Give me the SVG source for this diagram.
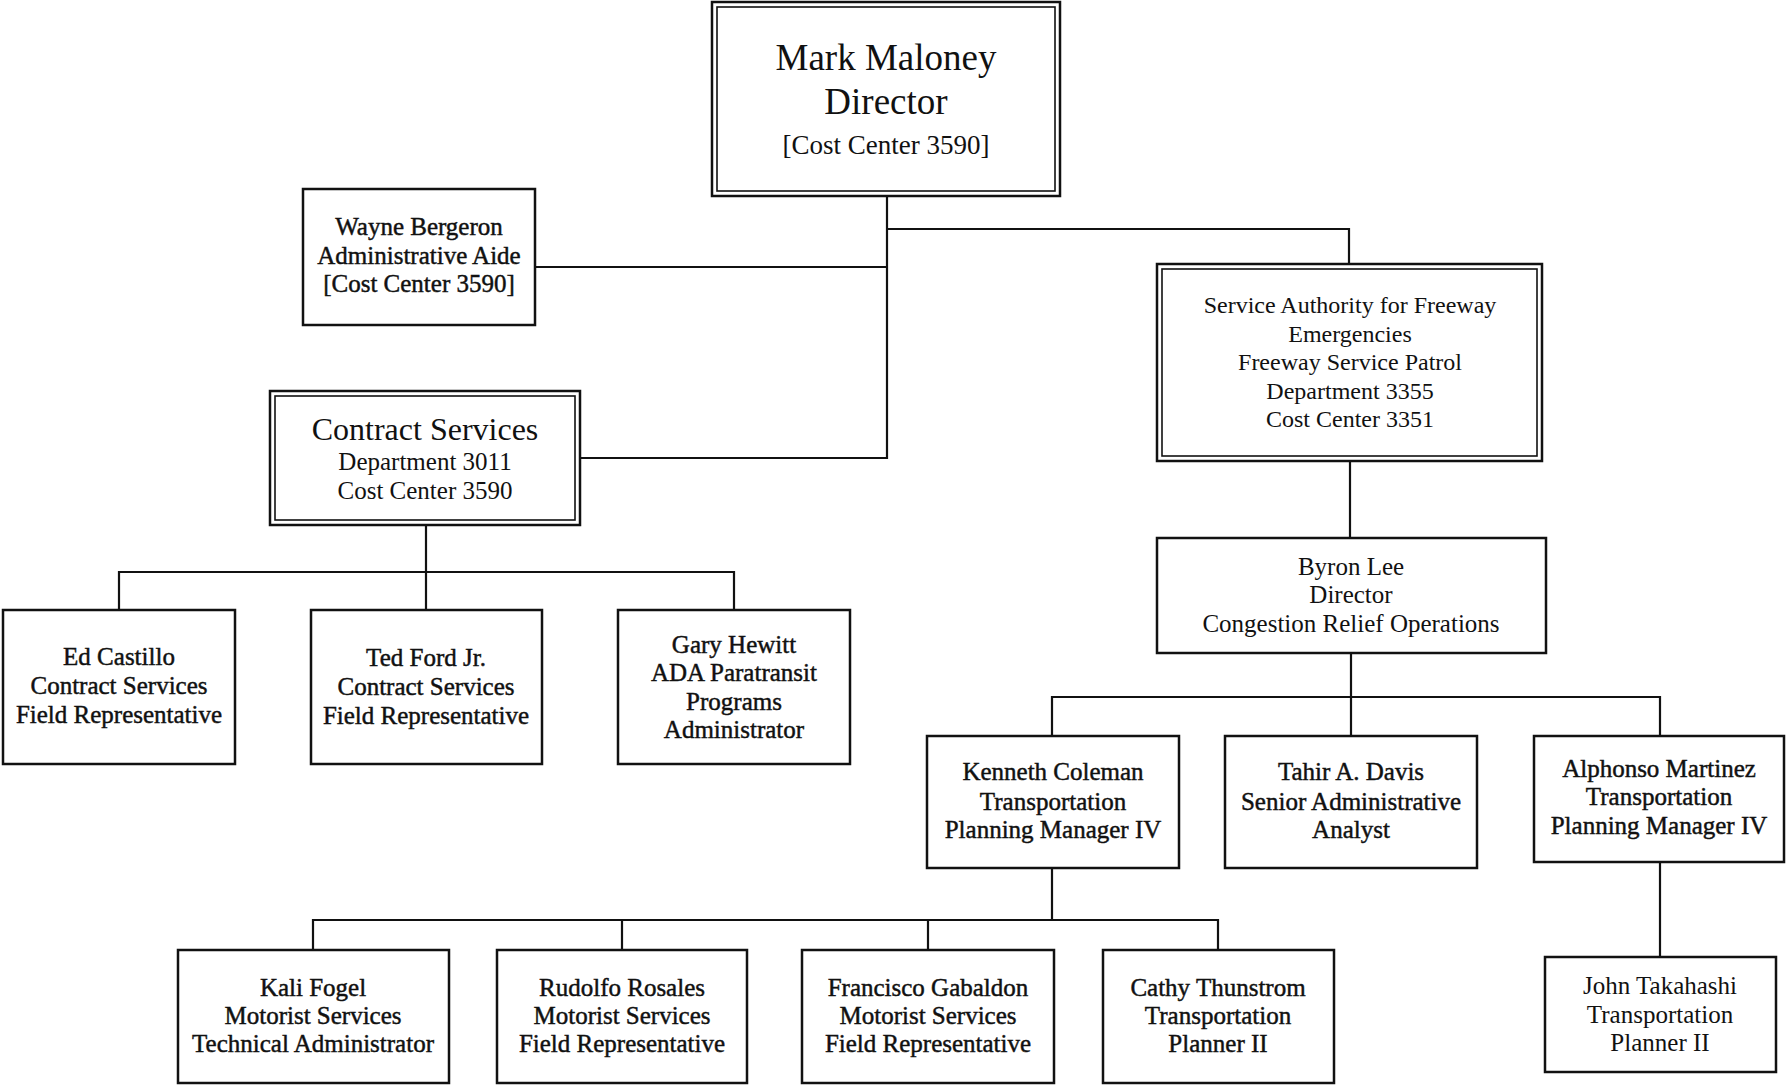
<svg xmlns="http://www.w3.org/2000/svg" width="1786" height="1086" viewBox="0 0 1786 1086">
<style>
text{font-family:"Liberation Serif","Times New Roman",serif;fill:#111;text-anchor:middle;font-size:25px}
.box{fill:#fff;stroke:#111;stroke-width:2.5}
.inner{fill:none;stroke:#111;stroke-width:1.6}
.heavy{stroke:#111;stroke-width:0.45}
.conn{fill:none;stroke:#111;stroke-width:2.2}
.big{font-size:37px}
.cs{font-size:32px}
.m24{font-size:24px}
</style>
<rect width="1786" height="1086" fill="#fff"/>
<g id="connectors" class="conn">
<path d="M887 196V458H580M887 267H535M887 229H1349V264"/>
<path d="M426 525V610M119 610V572H734V610"/>
<path d="M1350 461V538"/>
<path d="M1351 653V736M1052 736V697H1660V736"/>
<path d="M1052 868V920M313 950V920H1218V950M622 920V950M928 920V950"/>
<path d="M1660 862V957"/>
</g>
<g id="director">
<rect class="box" x="712" y="2" width="348" height="194"/>
<rect class="inner" x="717" y="7" width="338" height="184"/>
<text class="big" x="886" y="70">Mark Maloney</text>
<text class="big" x="886" y="114">Director</text>
<text style="font-size:27px" x="886" y="154">[Cost Center 3590]</text>
</g>
<g id="wayne" class="heavy">
<rect class="box" x="303" y="189" width="232" height="136"/>
<text x="419" y="235">Wayne Bergeron</text>
<text x="419" y="264">Administrative Aide</text>
<text x="419" y="292">[Cost Center 3590]</text>
</g>
<g id="contract">
<rect class="box" x="270" y="391" width="310" height="134"/>
<rect class="inner" x="275" y="396" width="300" height="124"/>
<text class="cs" x="425" y="440">Contract Services</text>
<text x="425" y="470">Department 3011</text>
<text x="425" y="499">Cost Center 3590</text>
</g>
<g id="safe">
<rect class="box" x="1157" y="264" width="385" height="197"/>
<rect class="inner" x="1162" y="269" width="375" height="187"/>
<text class="m24" x="1350" y="313">Service Authority for Freeway</text>
<text class="m24" x="1350" y="342">Emergencies</text>
<text class="m24" x="1350" y="370">Freeway Service Patrol</text>
<text class="m24" x="1350" y="399">Department 3355</text>
<text class="m24" x="1350" y="427">Cost Center 3351</text>
</g>
<g id="byron">
<rect class="box" x="1157" y="538" width="389" height="115"/>
<text x="1351" y="575">Byron Lee</text>
<text x="1351" y="603">Director</text>
<text x="1351" y="632">Congestion Relief Operations</text>
</g>
<g id="ed" class="heavy">
<rect class="box" x="3" y="610" width="232" height="154"/>
<text x="119" y="665">Ed Castillo</text>
<text x="119" y="694">Contract Services</text>
<text x="119" y="723">Field Representative</text>
</g>
<g id="ted" class="heavy">
<rect class="box" x="311" y="610" width="231" height="154"/>
<text x="426" y="666">Ted Ford Jr.</text>
<text x="426" y="695">Contract Services</text>
<text x="426" y="724">Field Representative</text>
</g>
<g id="gary" class="heavy">
<rect class="box" x="618" y="610" width="232" height="154"/>
<text x="734" y="653">Gary Hewitt</text>
<text x="734" y="681">ADA Paratransit</text>
<text x="734" y="710">Programs</text>
<text x="734" y="738">Administrator</text>
</g>
<g id="kenneth" class="heavy">
<rect class="box" x="927" y="736" width="252" height="132"/>
<text x="1053" y="780">Kenneth Coleman</text>
<text x="1053" y="810">Transportation</text>
<text x="1053" y="838">Planning Manager IV</text>
</g>
<g id="tahir" class="heavy">
<rect class="box" x="1225" y="736" width="252" height="132"/>
<text x="1351" y="780">Tahir A. Davis</text>
<text x="1351" y="810">Senior Administrative</text>
<text x="1351" y="838">Analyst</text>
</g>
<g id="alphonso" class="heavy">
<rect class="box" x="1534" y="736" width="250" height="126"/>
<text x="1659" y="777">Alphonso Martinez</text>
<text x="1659" y="805">Transportation</text>
<text x="1659" y="834">Planning Manager IV</text>
</g>
<g id="kali" class="heavy">
<rect class="box" x="178" y="950" width="271" height="133"/>
<text x="313" y="996">Kali Fogel</text>
<text x="313" y="1024">Motorist Services</text>
<text x="313" y="1052">Technical Administrator</text>
</g>
<g id="rudolfo" class="heavy">
<rect class="box" x="497" y="950" width="250" height="133"/>
<text x="622" y="996">Rudolfo Rosales</text>
<text x="622" y="1024">Motorist Services</text>
<text x="622" y="1052">Field Representative</text>
</g>
<g id="francisco" class="heavy">
<rect class="box" x="802" y="950" width="252" height="133"/>
<text x="928" y="996">Francisco Gabaldon</text>
<text x="928" y="1024">Motorist Services</text>
<text x="928" y="1052">Field Representative</text>
</g>
<g id="cathy" class="heavy">
<rect class="box" x="1103" y="950" width="231" height="133"/>
<text x="1218" y="996">Cathy Thunstrom</text>
<text x="1218" y="1024">Transportation</text>
<text x="1218" y="1052">Planner II</text>
</g>
<g id="john">
<rect class="box" x="1545" y="957" width="231" height="115"/>
<text x="1660" y="994">John Takahashi</text>
<text x="1660" y="1023">Transportation</text>
<text x="1660" y="1051">Planner II</text>
</g>
</svg>
